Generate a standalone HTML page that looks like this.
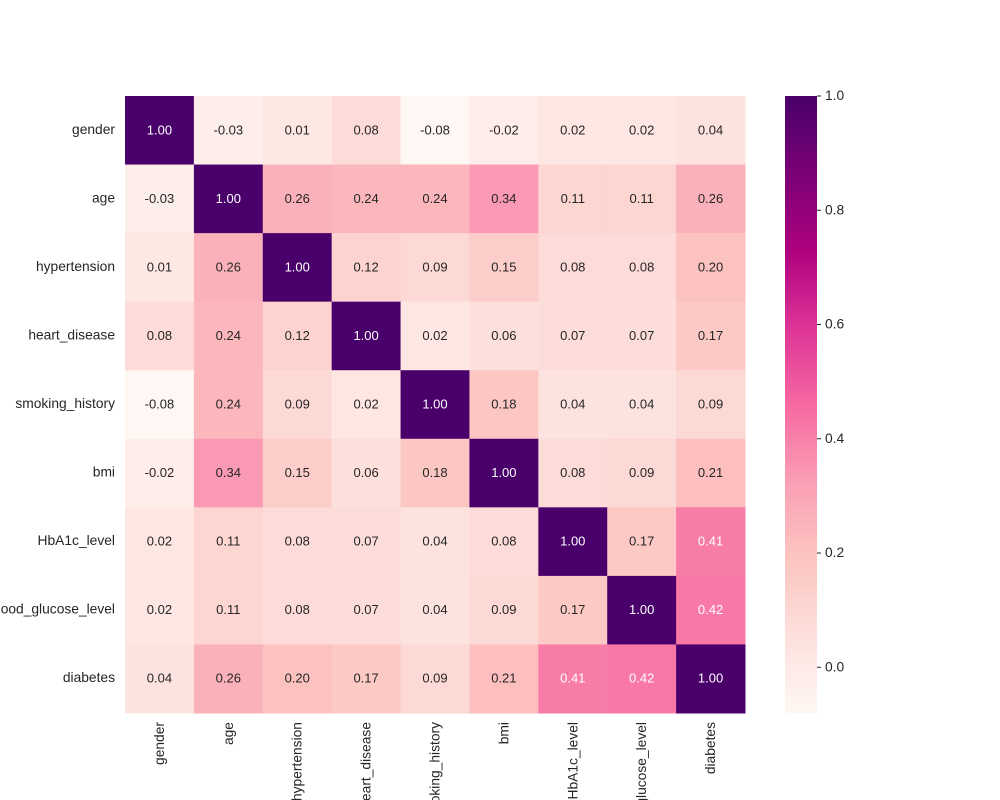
<!DOCTYPE html>
<html><head><meta charset="utf-8"><style>
html,body{margin:0;background:#fff;width:1000px;height:800px;overflow:hidden;font-family:"Liberation Sans",sans-serif}
svg{display:block;overflow:hidden}
svg text{font-family:"Liberation Sans",sans-serif;font-size:13px;fill:#262626}
svg text.lab{font-size:13.8px}
</style></head><body>
<svg id="c" width="1000" height="800" viewBox="0 0 1000 800"><defs><clipPath id="frame"><rect x="0" y="0" width="1000" height="800"/></clipPath></defs><g id="root" clip-path="url(#frame)"></g></svg>
<script>
const labels=["gender","age","hypertension","heart_disease","smoking_history","bmi","HbA1c_level","blood_glucose_level","diabetes"];
const row0=[1.00,-0.03,0.01,0.08,-0.08,-0.02,0.02,0.02,0.04];
const row1=[-0.03,1.00,0.26,0.24,0.24,0.34,0.11,0.11,0.26];
const row2=[0.01,0.26,1.00,0.12,0.09,0.15,0.08,0.08,0.20];
const row3=[0.08,0.24,0.12,1.00,0.02,0.06,0.07,0.07,0.17];
const row4=[-0.08,0.24,0.09,0.02,1.00,0.18,0.04,0.04,0.09];
const row5=[-0.02,0.34,0.15,0.06,0.18,1.00,0.08,0.09,0.21];
const row6=[0.02,0.11,0.08,0.07,0.04,0.08,1.00,0.17,0.41];
const row7=[0.02,0.11,0.08,0.07,0.04,0.09,0.17,1.00,0.42];
const row8=[0.04,0.26,0.20,0.17,0.09,0.21,0.41,0.42,1.00];
const matrix=[row0,row1,row2,row3,row4,row5,row6,row7,row8];
const cbTicks=[0.0,0.2,0.4,0.6,0.8,1.0];
const vmin=-0.08,vmax=1.0;
const L=125,T=96,W=620,H=617,n=labels.length,cw=W/n,ch=H/n;
const stops=["#fff7f3","#fde0dd","#fcc5c0","#fa9fb5","#f768a1","#dd3497","#ae017e","#7a0177","#49006a"];
function hex(h){return [1,3,5].map(i=>parseInt(h.substr(i,2),16));}
function cmap(v){let t=(v-vmin)/(vmax-vmin);t=Math.max(0,Math.min(1,t));const p=t*8,i=Math.min(7,Math.floor(p)),f=p-i;const a=hex(stops[i]),b=hex(stops[i+1]);return `rgb(${a.map((x,k)=>Math.round(x+(b[k]-x)*f)).join(",")})`;}
const NS="http://www.w3.org/2000/svg",svg=document.getElementById("c"),root=document.getElementById("root");
function el(tag,attrs,txt,parent){const e=document.createElementNS(NS,tag);for(const k in attrs)e.setAttribute(k,attrs[k]);if(txt!=null)e.textContent=txt;(parent||root).appendChild(e);return e;}
const xs=j=>L+j*cw, ys=i=>T+i*ch;
matrix.forEach((row,i)=>row.forEach((v,j)=>{
 const r=el("rect",{x:xs(j),y:ys(i),width:cw+0.5,height:ch+0.5,fill:cmap(v)});
 
 
 const t=el("text",{x:xs(j)+cw/2,y:ys(i)+ch/2+4,"text-anchor":"middle",style:"fill:"+(v>0.38?"#fff":"#262626")},v.toFixed(2));
 
 
}));
labels.forEach((lab,i)=>{
 const y=el("text",{class:"lab",x:115,y:ys(i)+ch/2+3.5,"text-anchor":"end"},lab);
 
 
 const cx=xs(i)+cw/2+4.5;
 const x=el("text",{class:"lab",x:cx,y:722,"text-anchor":"end",transform:`rotate(-90 ${cx} 722)`},lab);
 
 
});
const CL=785,CW=32,cy=v=>T+(vmax-v)/(vmax-vmin)*H;
const defs=svg.querySelector("defs");const g=document.createElementNS(NS,"linearGradient");g.setAttribute("id","gr");g.setAttribute("x1","0");g.setAttribute("y1","1");g.setAttribute("x2","0");g.setAttribute("y2","0");defs.appendChild(g);
stops.forEach((s,i)=>{const st=document.createElementNS(NS,"stop");st.setAttribute("offset",i/8);st.setAttribute("stop-color",s);g.appendChild(st);});
const cb=el("rect",{x:CL,y:T,width:CW,height:H,fill:"url(#gr)"});


cbTicks.forEach(v=>{
 el("line",{x1:CL+CW,x2:CL+CW+4,y1:cy(v),y2:cy(v),stroke:"#262626","stroke-width":1});
 const t=el("text",{class:"lab",x:CL+CW+8,y:cy(v)+4},v.toFixed(1));
 
 
});
</script>
</body></html>
